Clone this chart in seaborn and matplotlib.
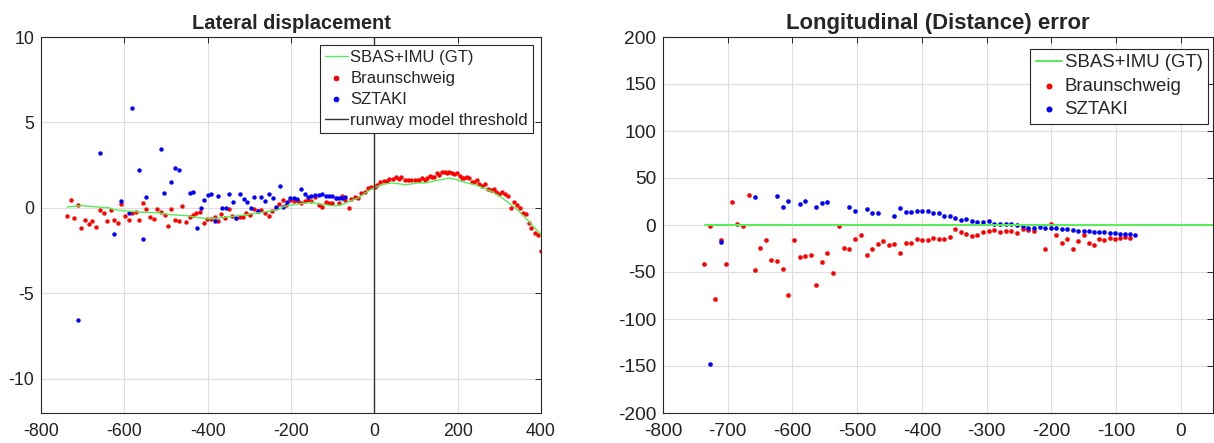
import matplotlib
matplotlib.use("Agg")
import matplotlib.pyplot as plt
import seaborn as sns

# ---------------- data: lateral displacement ----------------
lat_gt_x = [-737, -703, -659, -635, -627, -591, -559, -519, -487, -451,
            -419, -395, -371, -339, -307, -279, -251, -231, -215, -199,
            -175, -151, -135, -119, -103, -87, -71, -55, -39, -23,
            -7, 9, 25, 41, 57, 73, 89, 105, 121, 153,
            181, 197, 217, 241, 261, 281, 301, 321, 341, 361,
            381, 400]
lat_gt_y = [0.05, 0.14, 0.04, 0.0, -0.10, -0.19, -0.25, -0.29, -0.40, -0.45,
            -0.58, -0.64, -0.58, -0.49, -0.39, -0.29, -0.19, -0.10, 0.10, 0.17,
            0.25, 0.33, 0.25, 0.19, 0.13, 0.13, 0.25, 0.44, 0.58, 0.84,
            1.11, 1.27, 1.40, 1.46, 1.42, 1.36, 1.40, 1.46, 1.46, 1.62,
            1.75, 1.65, 1.50, 1.36, 1.17, 0.97, 0.68, 0.33, -0.06, -0.53,
            -1.07, -1.56]

lat_bs_x = [-737, -729, -720, -711, -703, -694, -685, -677, -668, -659,
            -650, -642, -633, -624, -615, -607, -599, -590, -581, -572,
            -564, -555, -547, -538, -530, -521, -512, -503, -495, -487,
            -479, -470, -461, -452, -443, -435, -427, -418, -409, -401,
            -392, -383, -375, -367, -358, -350, -341, -332, -323, -315,
            -307, -298, -288, -279, -271, -263, -254, -245, -236, -228,
            -219, -211, -202, -193,
            -184, -176, -167, -159, -151, -142, -134, -125, -117, -109,
            -101, -92, -84, -78, -70, -62, -55, -47, -39, -31,
            -23, -15, -7, 1, 7, 14, 22, 30, 36, 44,
            52, 58, 65, 73, 81, 89, 97, 105,
            108, 114, 121, 126, 133, 138, 143, 150, 156, 162,
            169, 174, 180, 186, 192, 198, 205, 210, 216, 222,
            227, 234, 239, 246, 251, 258, 265, 272, 279, 286,
            292, 298, 306, 314, 321, 327, 334, 342, 349, 357,
            364, 370, 377, 385, 392, 399]
lat_bs_y = [-0.45, 0.44, -0.58, 0.15, -1.19, -0.70, -0.94, -0.78, -1.11, -0.10,
            -0.29, -0.76, -0.10, -0.70, -0.90, 0.25, -0.49, -0.72, -0.29, -0.26,
            -0.68, 0.27, -0.08, -0.55, -0.63, -0.04, -0.23, -0.43, -1.05, -0.04,
            -0.68, -0.74, 0.10, -0.80, -0.51, -0.43, -0.27, -0.26, -0.88, -0.64,
            -0.63, -0.53, -0.78, -0.37, -0.58, -0.06, -0.49, -0.58, -0.55, -0.55,
            -0.32, -0.43, -0.04, -0.20, -0.12, -0.29, -0.47, -0.16, -0.02, 0.25,
            0.49, 0.19, 0.44, 0.39,
            0.38, 0.27, 0.38, 0.44, 0.43, 0.66, 0.17, 0.06, 0.33, 0.31,
            0.31, 0.56, 0.29, 0.68, 0.47, 0.02, 0.51, 0.64, 0.60, 0.86,
            0.95, 1.15, 1.22, 1.22, 1.32, 1.50, 1.59, 1.55, 1.70, 1.70,
            1.81, 1.70, 1.78, 1.61, 1.61, 1.61, 1.63, 1.65,
            1.65, 1.73, 1.62, 1.73, 1.85, 1.83, 1.79, 2.05, 1.93, 2.11,
            2.08, 2.05, 2.08, 2.05, 1.99, 2.05, 1.85, 1.75, 1.73, 1.83,
            1.73, 1.54, 1.50, 1.62, 1.42, 1.26, 1.38, 1.11, 1.07, 1.11,
            0.91, 0.84, 0.91, 0.80, 0.72, 0.00, 0.33, 0.17, -0.02, -0.29,
            -0.33, -0.88, -1.19, -1.44, -1.56, -2.50]

lat_sz_x = [-711, -659, -625, -607, -590, -581, -564, -555, -547, -513,
            -504, -487, -478, -469, -443, -435, -426, -417, -409, -400,
            -391, -383, -375, -366, -357, -349, -340, -331, -323, -314,
            -306, -297, -288, -279, -271, -262, -253, -244, -235, -227,
            -219, -210, -202, -193, -185, -176, -167, -159, -151, -142,
            -134, -125, -117, -109, -101, -92, -84, -78, -70]
lat_sz_y = [-6.53, 3.22, -1.52, 0.39, -0.29, 5.87, 2.20, -1.80, 0.64, 3.45,
            0.89, 1.54, 2.32, 2.22, 0.85, 0.91, -1.17, -0.02, 0.49, 0.74,
            0.82, -0.78, 0.68, -0.02, -0.02, 0.82, 0.37, -0.57, 0.82, 0.53,
            0.37, 0.02, 0.66, -0.18, 0.66, 0.43, 0.84, 0.58, 0.06, 1.30,
            0.06, 0.33, 0.58, 0.58, 0.54, 1.11, 0.82, 0.62, 0.72, 0.74,
            0.76, 0.80, 0.72, 0.70, 0.68, 0.56, 0.58, 0.60, 0.64]

threshold_x = 0

# ---------------- data: longitudinal error ----------------
lon_gt_x = [-735, 50]
lon_gt_y = [0, 0]

lon_bs_x = [-737, -728, -720, -711, -703, -693, -685, -676, -667, -658,
            -650, -641, -633, -624, -615, -607, -598, -589, -581, -572,
            -563, -555, -546, -537, -528, -520, -512, -503, -494, -485,
            -477, -468, -460, -451, -443, -434, -425, -416, -408, -400,
            -391, -382, -374, -365, -357, -349, -340, -331, -323, -314,
            -305, -296, -288, -279, -270, -262, -253, -244, -236, -227,
            -210, -201, -193, -184, -175, -167, -159, -150, -142, -134,
            -126, -118, -109, -102, -94, -86, -78]
lon_bs_y = [-42.0, -0.7, -78.3, -15.9, -41.6, 24.7, 1.4, -1.1, 31.8, -47.6,
            -24.0, -15.9, -37.4, -38.5, -46.6, -74.8, -15.9, -34.2, -33.2, -31.8,
            -64.2, -39.2, -29.3, -51.2, -1.1, -24.4, -25.4, -14.8, -10.9, -31.8,
            -25.8, -19.8, -17.3, -20.8, -20.1, -29.3, -18.7, -19.1, -14.5, -15.9,
            -15.9, -14.1, -14.8, -15.2, -12.4, -4.2, -7.8, -9.9, -12.0, -10.2,
            -7.1, -6.0, -4.9, -7.1, -6.7, -6.7, -8.5, -4.2, -5.6, -6.4,
            -25.4, 0.7, -10.6, -19.1, -15.2, -25.4, -16.9, -10.6, -18.7, -21.5,
            -14.8, -15.9, -14.1, -14.5, -14.1, -12.7, -13.4]

lon_sz_x = [-728, -711, -658, -624, -615, -607, -589, -581, -563, -555,
            -546, -512, -503, -485, -477, -468, -443, -434, -425, -416,
            -408, -400, -391, -382, -374, -365, -357, -349, -340, -331,
            -323, -314, -305, -296, -288, -279, -270, -262, -253, -244,
            -236, -227, -218, -210, -201, -193, -184, -175, -167, -159,
            -150, -142, -134, -126, -118, -109, -102, -94, -86, -78,
            -70]
lon_sz_y = [-148.2, -18.4, 29.3, 30.7, 19.4, 25.4, 22.2, 25.1, 18.7, 23.3,
            24.0, 19.1, 15.2, 16.9, 12.7, 12.4, 9.5, 18.0, 14.1, 14.1,
            14.8, 15.2, 15.2, 13.1, 12.7, 9.5, 9.9, 7.1, 5.3, 6.0,
            4.2, 3.2, 2.8, 3.9, 1.4, 1.1, 0.7, 0.7, 0.4, -1.1,
            -3.5, -3.2, -1.8, -2.8, -2.8, -3.2, -3.9, -4.6, -4.9, -6.0,
            -6.4, -6.7, -7.1, -7.4, -7.8, -8.5, -8.8, -9.2, -9.5, -9.9,
            -10.2]

lat_xticks = [-800, -600, -400, -200, 0, 200, 400]
lat_yticks = [-10, -5, 0, 5, 10]
lon_xticks = [-800, -700, -600, -500, -400, -300, -200, -100, 0]
lon_yticks = [-200, -150, -100, -50, 0, 50, 100, 150, 200]

# ---------------- style ----------------
sns.set_theme(style="white")
plt.rcParams["font.family"] = ["Liberation Sans", "DejaVu Sans"]

GREEN = "#55ee55"
RED = "#ff0000"
BLUE = "#0000ff"
AXC = "#262626"
GRIDC = "#dedede"

fig = plt.figure(figsize=(12.14, 4.43), dpi=100)
W, H = 1214, 443
ax1 = fig.add_axes([41 / W, 30 / H, 500 / W, 376 / H])
ax2 = fig.add_axes([663 / W, 30 / H, 550 / W, 376 / H])


def style_axes(ax, xticks, yticks, xlim, ylim, title, tsize, lsize):
    ax.set_xlim(*xlim)
    ax.set_ylim(*ylim)
    ax.set_xticks(xticks)
    ax.set_yticks(yticks)
    ax.set_xticklabels([str(t) for t in xticks])
    ax.set_yticklabels([str(t) for t in yticks])
    ax.grid(True, color=GRIDC, linewidth=0.8)
    ax.set_axisbelow(True)
    for s in ax.spines.values():
        s.set_color(AXC)
        s.set_linewidth(0.8)
        s.set_visible(True)
    ax.tick_params(direction="in", top=True, right=True, length=4,
                   width=0.7, color=AXC, labelsize=lsize, labelcolor="#222222")
    ax.tick_params(axis="x", pad=7)
    ax.tick_params(axis="y", pad=5)
    ax.set_title(title, fontsize=tsize, fontweight="bold", pad=6)
    ax.set_xlabel("")
    ax.set_ylabel("")


def make_legend(ax, fontsize, dx_px, dy_px, w_px, h_px):
    leg = ax.legend(loc="upper right",
                    bbox_to_anchor=(1 - dx_px / w_px, 1 - dy_px / h_px),
                    borderaxespad=0, fontsize=fontsize, frameon=True,
                    fancybox=False, framealpha=1, edgecolor=AXC,
                    handlelength=1.4, handletextpad=0.15, borderpad=0.3,
                    labelspacing=0.35, markerscale=1.3)
    leg.get_frame().set_linewidth(0.8)
    return leg


# ---- left: lateral displacement ----
sns.lineplot(x=lat_gt_x, y=lat_gt_y, ax=ax1, color=GREEN, linewidth=1.0,
             sort=False, estimator=None, label="SBAS+IMU (GT)")
sns.scatterplot(x=lat_bs_x, y=lat_bs_y, ax=ax1, color=RED, s=10,
                linewidth=0, label="Braunschweig")
sns.scatterplot(x=lat_sz_x, y=lat_sz_y, ax=ax1, color=BLUE, s=10,
                linewidth=0, label="SZTAKI")
ax1.axvline(threshold_x, color="#333333", linewidth=1.0,
            label="runway model threshold")
style_axes(ax1, lat_xticks, lat_yticks, (-800, 400), (-12, 10),
           "Lateral displacement", 14.4, 12.8)
make_legend(ax1, 12.0, 8, 8, 500, 376)

# ---- right: longitudinal error ----
sns.lineplot(x=lon_gt_x, y=lon_gt_y, ax=ax2, color=GREEN, linewidth=1.4,
             sort=False, estimator=None, label="SBAS+IMU (GT)")
sns.scatterplot(x=lon_bs_x, y=lon_bs_y, ax=ax2, color=RED, s=11,
                linewidth=0, label="Braunschweig")
sns.scatterplot(x=lon_sz_x, y=lon_sz_y, ax=ax2, color=BLUE, s=11,
                linewidth=0, label="SZTAKI")
style_axes(ax2, lon_xticks, lon_yticks, (-800, 50), (-200, 200),
           "Longitudinal (Distance) error", 15.9, 13.8)
make_legend(ax2, 13.4, 5, 11.5, 550, 376)

fig.savefig("out.png", dpi=100)
